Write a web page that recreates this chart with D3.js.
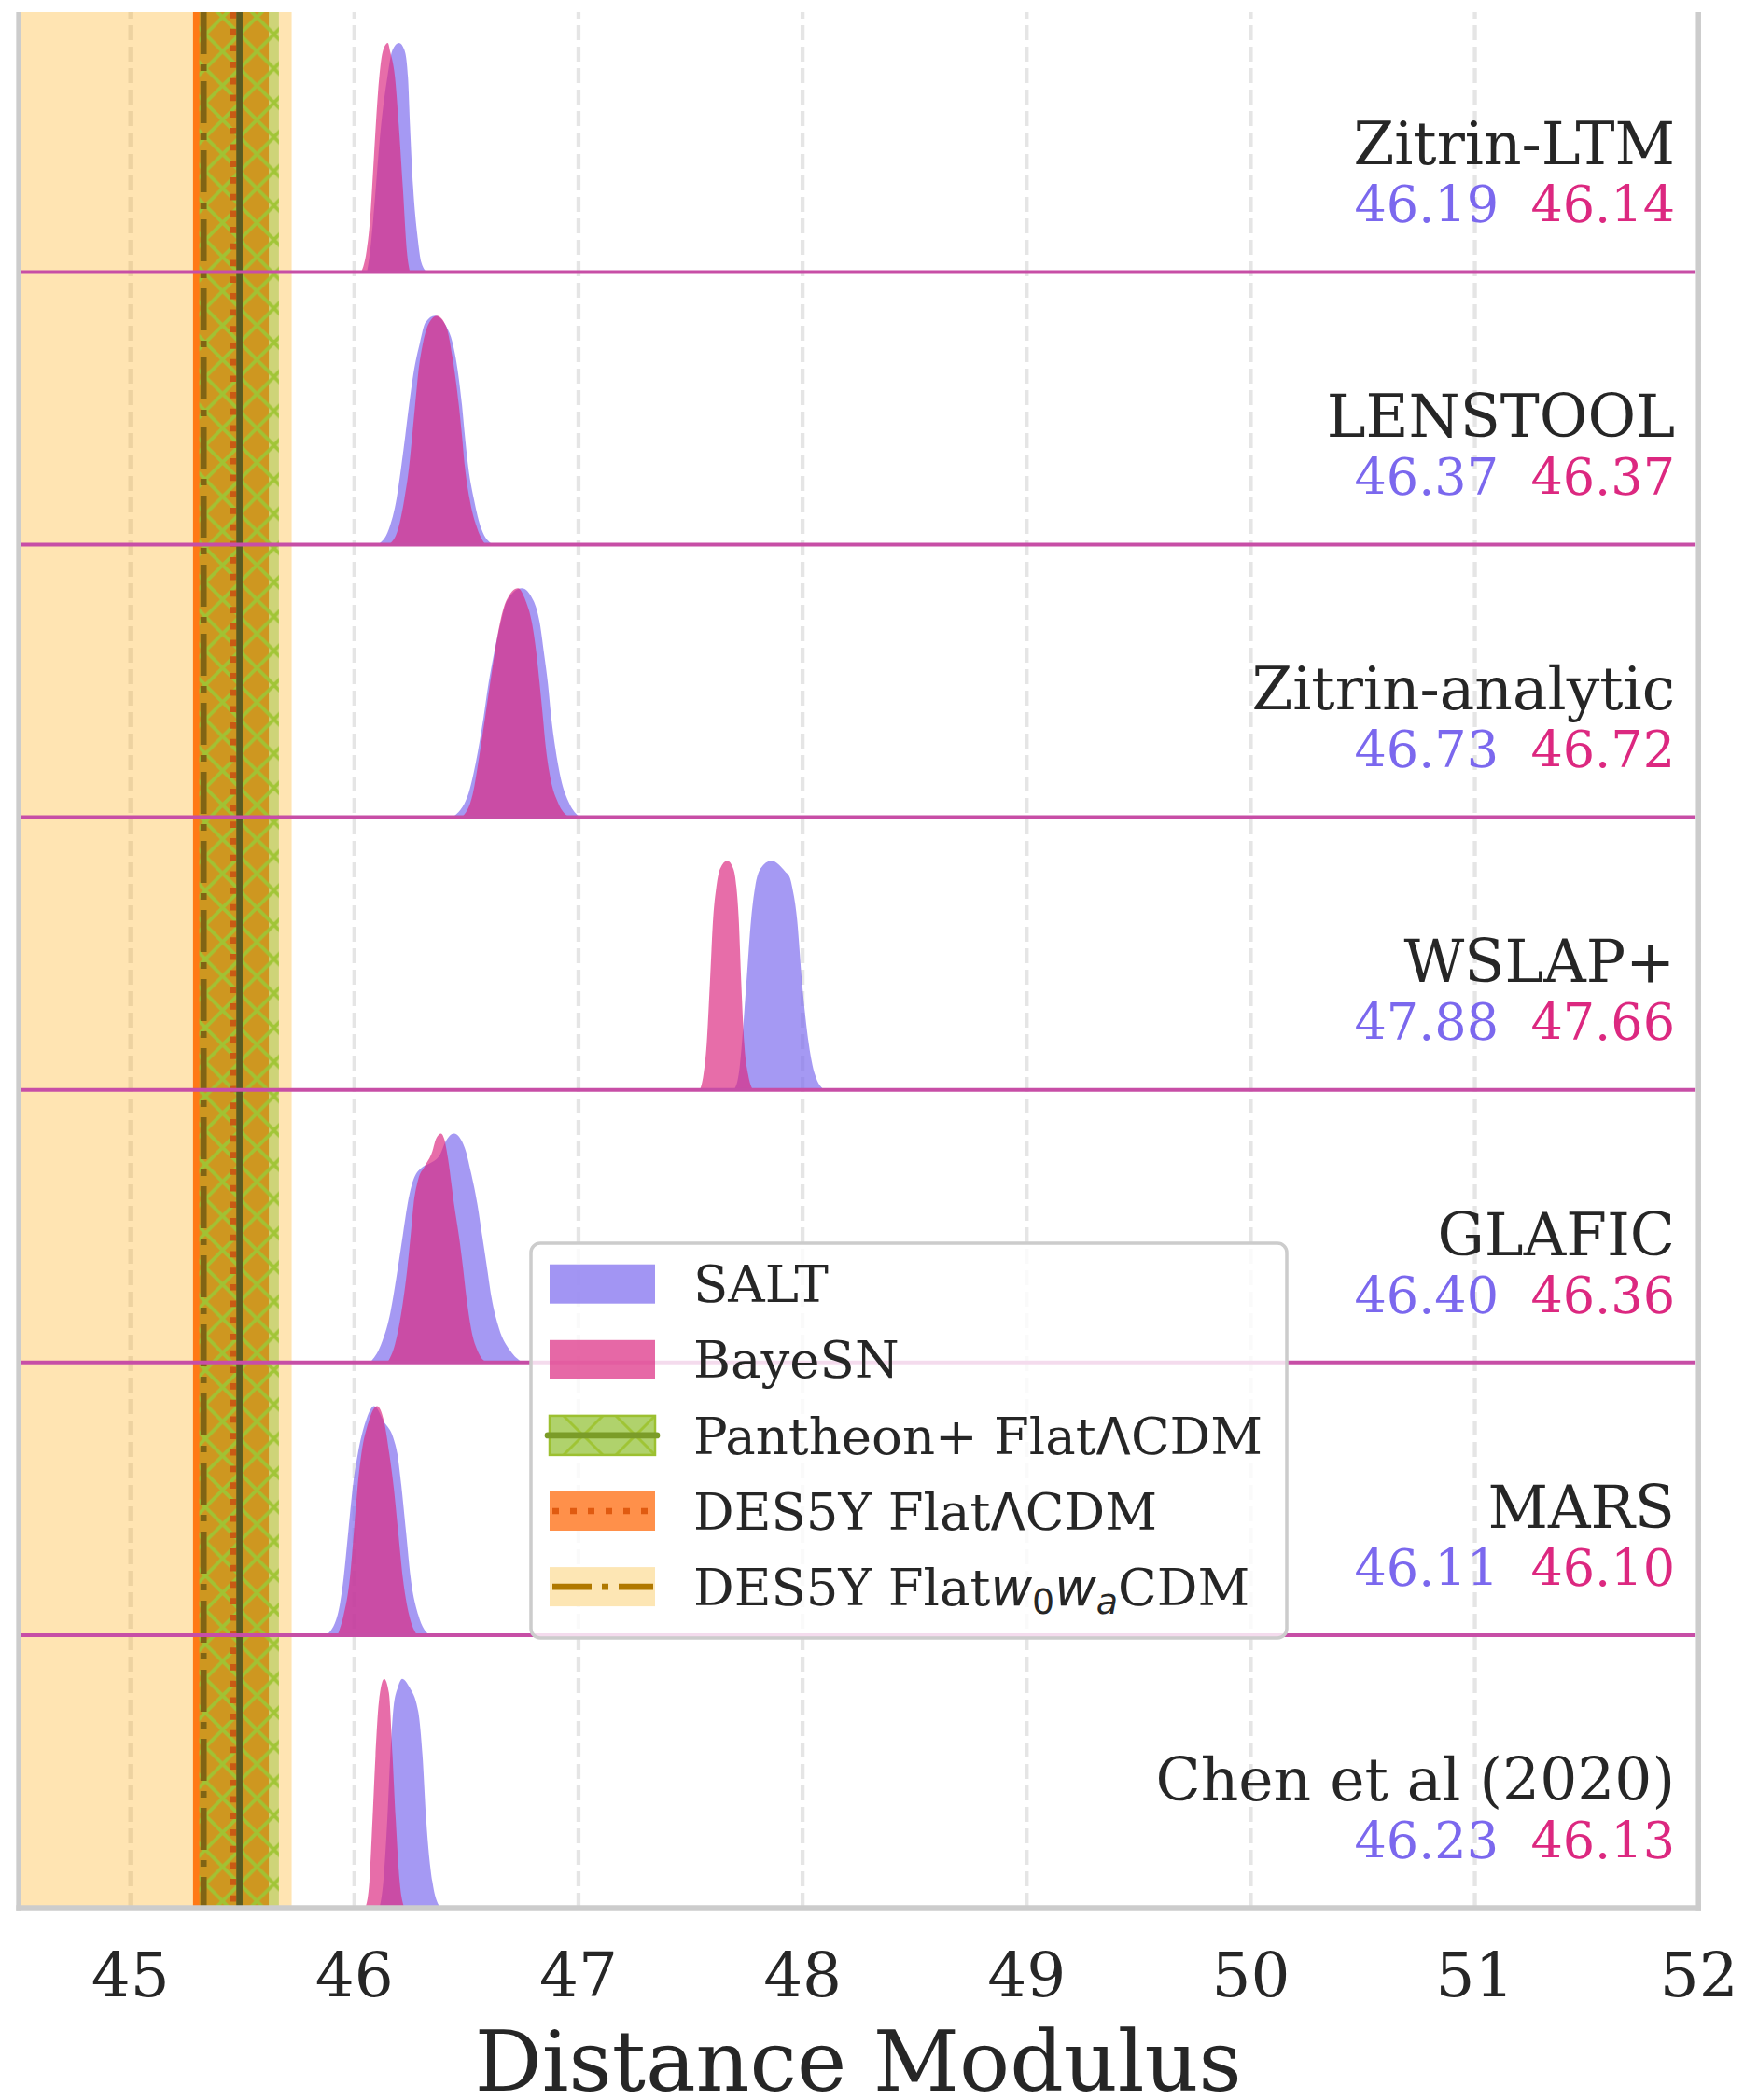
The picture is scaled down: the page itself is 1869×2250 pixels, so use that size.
<!DOCTYPE html>
<html><head><meta charset="utf-8">
<script src="https://cdn.jsdelivr.net/npm/d3@7"></script>
<style>html,body{margin:0;padding:0;background:#fff;} svg{display:block;}</style>
</head><body>
<svg id="chart" width="1869" height="2250"></svg>
<script>
// ---------- data ----------
const models = ["Zitrin-LTM","LENSTOOL","Zitrin-analytic","WSLAP+","GLAFIC","MARS","Chen et al (2020)"];
const saltMeans = ["46.19","46.37","46.73","47.88","46.40","46.11","46.23"];
const bayesnMeans = ["46.14","46.37","46.72","47.66","46.36","46.10","46.13"];
const xTicks = [45,46,47,48,49,50,51,52];

// density curves: [distance modulus, density relative to peak]
const saltCurves = [
  [[46.058,0],[46.072,0.09],[46.086,0.23],[46.121,0.64],[46.149,0.85],[46.172,0.97],[46.201,1],[46.225,0.97],[46.241,0.85],[46.250,0.64],[46.264,0.37],[46.283,0.16],[46.301,0.04],[46.325,0]],
  [[46.107,0],[46.156,0.068],[46.190,0.2],[46.211,0.34],[46.229,0.476],[46.246,0.61],[46.266,0.75],[46.294,0.88],[46.319,0.97],[46.361,1],[46.426,0.925],[46.454,0.816],[46.482,0.61],[46.495,0.476],[46.510,0.34],[46.535,0.2],[46.569,0.068],[46.620,0]],
  [[46.440,0],[46.510,0.1],[46.544,0.24],[46.579,0.44],[46.600,0.58],[46.624,0.71],[46.655,0.85],[46.683,0.946],[46.749,1],[46.801,0.946],[46.829,0.85],[46.849,0.71],[46.866,0.58],[46.880,0.44],[46.898,0.306],[46.923,0.17],[46.961,0.061],[47.009,0]],
  [[47.696,0],[47.717,0.068],[47.731,0.2],[47.752,0.476],[47.773,0.75],[47.790,0.884],[47.814,0.966],[47.863,1],[47.925,0.952],[47.946,0.925],[47.956,0.884],[47.977,0.75],[47.999,0.476],[48.030,0.2],[48.057,0.068],[48.099,0]],
  [[46.072,0],[46.121,0.079],[46.162,0.215],[46.197,0.42],[46.218,0.555],[46.239,0.69],[46.266,0.8],[46.308,0.855],[46.340,0.87],[46.385,0.909],[46.408,0.963],[46.447,1],[46.495,0.936],[46.523,0.827],[46.551,0.69],[46.572,0.555],[46.593,0.42],[46.614,0.283],[46.648,0.147],[46.697,0.052],[46.752,0]],
  [[45.878,0],[45.927,0.088],[45.954,0.25],[45.975,0.454],[45.996,0.657],[46.017,0.79],[46.051,0.93],[46.090,1],[46.135,0.93],[46.176,0.86],[46.194,0.79],[46.211,0.657],[46.232,0.454],[46.253,0.25],[46.287,0.088],[46.336,0]],
  [[46.114,0],[46.131,0.114],[46.149,0.39],[46.162,0.663],[46.176,0.87],[46.197,0.966],[46.215,1],[46.246,0.966],[46.287,0.856],[46.306,0.663],[46.322,0.39],[46.350,0.114],[46.385,0]]
];
const bayesnCurves = [
  [[46.033,0],[46.056,0.09],[46.072,0.23],[46.089,0.5],[46.107,0.78],[46.128,0.96],[46.151,1],[46.162,0.96],[46.183,0.85],[46.200,0.64],[46.218,0.37],[46.236,0.09],[46.250,0]],
  [[46.156,0],[46.197,0.068],[46.225,0.2],[46.246,0.34],[46.260,0.476],[46.273,0.61],[46.287,0.75],[46.308,0.88],[46.336,0.97],[46.370,1],[46.412,0.952],[46.440,0.816],[46.468,0.61],[46.482,0.476],[46.495,0.34],[46.516,0.2],[46.551,0.068],[46.586,0]],
  [[46.482,0],[46.530,0.1],[46.555,0.24],[46.586,0.44],[46.607,0.58],[46.627,0.71],[46.652,0.85],[46.680,0.946],[46.732,1],[46.766,0.946],[46.794,0.85],[46.815,0.71],[46.829,0.58],[46.843,0.44],[46.856,0.306],[46.877,0.17],[46.912,0.061],[46.961,0]],
  [[47.544,0],[47.560,0.068],[47.574,0.2],[47.589,0.476],[47.603,0.75],[47.617,0.884],[47.634,0.966],[47.666,1],[47.693,0.966],[47.707,0.884],[47.717,0.75],[47.728,0.476],[47.742,0.2],[47.759,0.068],[47.780,0]],
  [[46.149,0],[46.183,0.079],[46.211,0.215],[46.239,0.42],[46.253,0.555],[46.266,0.69],[46.287,0.8],[46.315,0.855],[46.350,0.922],[46.366,0.976],[46.389,1],[46.403,0.976],[46.419,0.895],[46.447,0.69],[46.468,0.555],[46.486,0.42],[46.502,0.283],[46.523,0.147],[46.558,0.038],[46.593,0]],
  [[45.927,0],[45.954,0.088],[45.982,0.25],[46.000,0.454],[46.017,0.657],[46.033,0.79],[46.065,0.93],[46.103,1],[46.135,0.93],[46.158,0.79],[46.176,0.657],[46.197,0.454],[46.218,0.25],[46.246,0.088],[46.281,0]],
  [[46.051,0],[46.069,0.114],[46.083,0.39],[46.096,0.663],[46.111,0.897],[46.135,1],[46.156,0.938],[46.172,0.663],[46.186,0.39],[46.204,0.114],[46.225,0]]
];

// cosmology bands: [lower, centre, upper] in distance modulus
const pantheonBand = [45.310, 45.489, 45.665];
const des5yLcdmBand = [45.282, 45.461, 45.620];
const des5yW0waBand = [44.300, 45.329, 45.722];

const legendLabels = ["SALT","BayeSN","Pantheon+ FlatΛCDM","DES5Y FlatΛCDM","DES5Y Flat$w_0w_a$CDM"];
const axisTitle = "Distance Modulus";

// ---------- layout ----------
const FONT = "'DejaVu Serif', serif";
const SANS = "'DejaVu Sans', sans-serif";
const TXT = "#262626";
const C_SALT = "#7b68ee", C_BAYE = "#dc2880";
const plotTop = 13, plotBottom = 2044, rowH = 292.1;

const x = d3.scaleLinear().domain([44.5, 52]).range([19.1, 1820.2]);
const y = d3.scaleBand().domain(models).range([plotBottom - models.length*rowH, plotBottom]).paddingInner(0);
const bw = y.bandwidth();
const h = d3.scaleLinear().domain([0, 1]).range([0, 0.84*bw]);

const svg = d3.select("#chart");
const defs = svg.append("defs");
defs.append("clipPath").attr("id","plotClip").append("rect")
  .attr("x", x(44.5)).attr("y", plotTop).attr("width", x(52)-x(44.5)).attr("height", plotBottom-plotTop);

function hatch(id, p, sw){
  const pat = defs.append("pattern").attr("id", id).attr("patternUnits","userSpaceOnUse")
    .attr("width", p).attr("height", p);
  pat.append("path").attr("d", `M-4,-4L${p+4},${p+4}M${p+4},-4L-4,${p+4}`)
    .attr("stroke","#9fc434").attr("stroke-width", sw).attr("fill","none");
}
hatch("hatch", 36.7, 3.8);
hatch("hatchLeg", 56, 3);

// ---------- grid ----------
const grid = svg.append("g").attr("transform", `translate(0,${plotBottom})`)
  .call(d3.axisBottom(x).tickValues(xTicks).tickSize(-(plotBottom-plotTop)).tickFormat(""));
grid.select(".domain").remove();
grid.selectAll("line").attr("stroke","#e5e5e5").attr("stroke-width",4.3).attr("stroke-dasharray","16,7");

// ---------- cosmology bands ----------
const bands = svg.append("g").attr("clip-path","url(#plotClip)");
function bandRect(b, fill, op){
  return bands.append("rect").attr("x", x(b[0])).attr("y", plotTop)
    .attr("width", x(b[2]) - x(b[0])).attr("height", plotBottom - plotTop)
    .attr("fill", fill).attr("fill-opacity", op);
}
bandRect(des5yW0waBand, "#ffa500", 0.3);
bandRect(des5yLcdmBand, "#ff6a00", 0.88);
bandRect(pantheonBand, "#8ebf2e", 0.434);
bandRect(pantheonBand, "url(#hatch)", 0.95);

function vline(v, color, dash){
  const l = bands.append("line").attr("x1", x(v)).attr("x2", x(v))
    .attr("y1", plotTop).attr("y2", plotBottom).attr("stroke", color).attr("stroke-width", 6.7);
  if (dash) l.attr("stroke-dasharray", dash);
}
vline(des5yW0waBand[1], "#806414", "45,11,7,11");
vline(des5yLcdmBand[1], "#c85a14", "6.7,11");
vline(pantheonBand[1], "#5a5a22", null);

// ---------- ridges ----------
const area = d3.area().x(d => x(d[0])).y0(0).y1(d => -h(d[1])).curve(d3.curveMonotoneX);
models.forEach((m, i) => {
  const g = svg.append("g").attr("transform", `translate(0,${y(m) + bw})`);
  g.append("path").datum(saltCurves[i]).attr("d", area).attr("fill", C_SALT).attr("fill-opacity", 0.68);
  g.append("path").datum(bayesnCurves[i]).attr("d", area).attr("fill", C_BAYE).attr("fill-opacity", 0.68);
});

// baselines between rows
models.slice(0, models.length - 1).forEach(m => {
  svg.append("line").attr("x1", x(44.5) + 3).attr("x2", x(52) - 3)
    .attr("y1", y(m) + bw).attr("y2", y(m) + bw)
    .attr("stroke", "#c74ea6").attr("stroke-width", 4);
});

// spines
const spine = {stroke: "#cccccc", w: 5.5};
svg.append("line").attr("x1", x(44.5)+1).attr("x2", x(44.5)+1).attr("y1", plotTop).attr("y2", plotBottom+2.75)
  .attr("stroke", spine.stroke).attr("stroke-width", spine.w);
svg.append("line").attr("x1", x(52)).attr("x2", x(52)).attr("y1", plotTop).attr("y2", plotBottom+2.75)
  .attr("stroke", spine.stroke).attr("stroke-width", spine.w);
svg.append("line").attr("x1", x(44.5)+1-2.75).attr("x2", x(52)+2.75).attr("y1", plotBottom).attr("y2", plotBottom)
  .attr("stroke", spine.stroke).attr("stroke-width", spine.w);

// ---------- row labels ----------
models.forEach((m, i) => {
  const base = y(m) + bw;
  svg.append("text").attr("x", 1795).attr("y", base - 115.3).attr("text-anchor","end")
    .attr("font-family", FONT).attr("font-size", 63).attr("fill", TXT).text(m);
  const t = svg.append("text").attr("x", 1795).attr("y", base - 53.3).attr("text-anchor","end")
    .attr("font-family", FONT).attr("font-size", 54).style("white-space","pre");
  t.append("tspan").attr("fill", C_SALT).text(saltMeans[i]);
  t.append("tspan").text("  ");
  t.append("tspan").attr("fill", C_BAYE).text(bayesnMeans[i]);
});

// ---------- x axis ----------
const ax = svg.append("g").attr("transform", `translate(0,${plotBottom})`)
  .call(d3.axisBottom(x).tickValues(xTicks).tickSize(0).tickFormat(d3.format("d")));
ax.select(".domain").remove();
ax.selectAll("text").attr("y", 94.7).attr("dy", null)
  .attr("font-family", FONT).attr("font-size", 66).attr("fill", TXT);
svg.append("text").attr("x", (x(44.5)+x(52))/2).attr("y", 2240).attr("text-anchor","middle")
  .attr("font-family", FONT).attr("font-size", 90).attr("fill", TXT).text(axisTitle);

// ---------- legend ----------
const leg = svg.append("g").attr("transform", "translate(569,1332)");
leg.append("rect").attr("width", 810).attr("height", 423).attr("rx", 10)
  .attr("fill", "#fff").attr("fill-opacity", 0.8).attr("stroke", "#cccccc").attr("stroke-width", 3.5);

// minimal mathtext: $w_0w_a$ -> italic sans letters with lowered subscripts; Λ in sans
function richText(sel, label){
  const pieces = [];
  label.split("$").forEach((p, k) => {
    if (k % 2 === 0) {
      p.split(/(Λ)/).forEach(s => { if (s) pieces.push({t: s, fam: s === "Λ" ? SANS : null}); });
    } else {
      const re = /([A-Za-z])(?:_([A-Za-z0-9]))?/g; let mm;
      while ((mm = re.exec(p)) !== null) {
        pieces.push({t: mm[1], fam: SANS, it: true});
        if (mm[2]) pieces.push({t: mm[2], fam: SANS, it: /[A-Za-z]/.test(mm[2]), sub: true});
      }
    }
  });
  let shifted = false;
  pieces.forEach(pc => {
    const ts = sel.append("tspan").text(pc.t);
    if (pc.fam) ts.attr("font-family", pc.fam);
    if (pc.it) ts.attr("font-style", "italic");
    if (pc.sub) { ts.attr("font-size", 38); if (!shifted) { ts.attr("dy", 9); shifted = true; } }
    else if (shifted) { ts.attr("dy", -9); shifted = false; }
  });
}

legendLabels.forEach((lab, i) => {
  const cy = 43.7 + i*81.1;
  const g = leg.append("g").attr("transform", `translate(0,${cy})`);
  const sw = {x: 20, w: 113, h: 42};
  if (i === 0) {
    g.append("rect").attr("x", sw.x).attr("y", -sw.h/2).attr("width", sw.w).attr("height", sw.h)
      .attr("fill", C_SALT).attr("fill-opacity", 0.7);
  } else if (i === 1) {
    g.append("rect").attr("x", sw.x).attr("y", -sw.h/2).attr("width", sw.w).attr("height", sw.h)
      .attr("fill", C_BAYE).attr("fill-opacity", 0.7);
  } else if (i === 2) {
    g.append("rect").attr("x", sw.x).attr("y", -sw.h/2).attr("width", sw.w).attr("height", sw.h)
      .attr("fill", "#8ebf2e").attr("fill-opacity", 0.7);
    g.append("rect").attr("x", sw.x).attr("y", -sw.h/2).attr("width", sw.w).attr("height", sw.h)
      .attr("fill", "url(#hatchLeg)").attr("stroke", "#9cc030").attr("stroke-width", 2.5);
    g.append("line").attr("x1", sw.x - 2).attr("x2", sw.x + sw.w + 2).attr("y1", 0).attr("y2", 0)
      .attr("stroke", "#7b9c28").attr("stroke-width", 6.7).attr("stroke-linecap","round");
  } else if (i === 3) {
    g.append("rect").attr("x", sw.x).attr("y", -sw.h/2).attr("width", sw.w).attr("height", sw.h)
      .attr("fill", "#ff904a");
    g.append("line").attr("x1", sw.x + 3).attr("x2", sw.x + sw.w).attr("y1", 0).attr("y2", 0)
      .attr("stroke", "#e05a10").attr("stroke-width", 6.7).attr("stroke-dasharray", "7,12");
  } else {
    g.append("rect").attr("x", sw.x).attr("y", -sw.h/2).attr("width", sw.w).attr("height", sw.h)
      .attr("fill", "#fde6b4");
    g.append("line").attr("x1", sw.x + 3).attr("x2", sw.x + sw.w - 2).attr("y1", 0).attr("y2", 0)
      .attr("stroke", "#b07800").attr("stroke-width", 6.7).attr("stroke-dasharray", "42,11,7,11");
  }
  const t = g.append("text").attr("x", 174).attr("y", 19.6)
    .attr("font-family", FONT).attr("font-size", 54.5).attr("fill", TXT);
  richText(t, lab);
});
</script>
</body></html>
